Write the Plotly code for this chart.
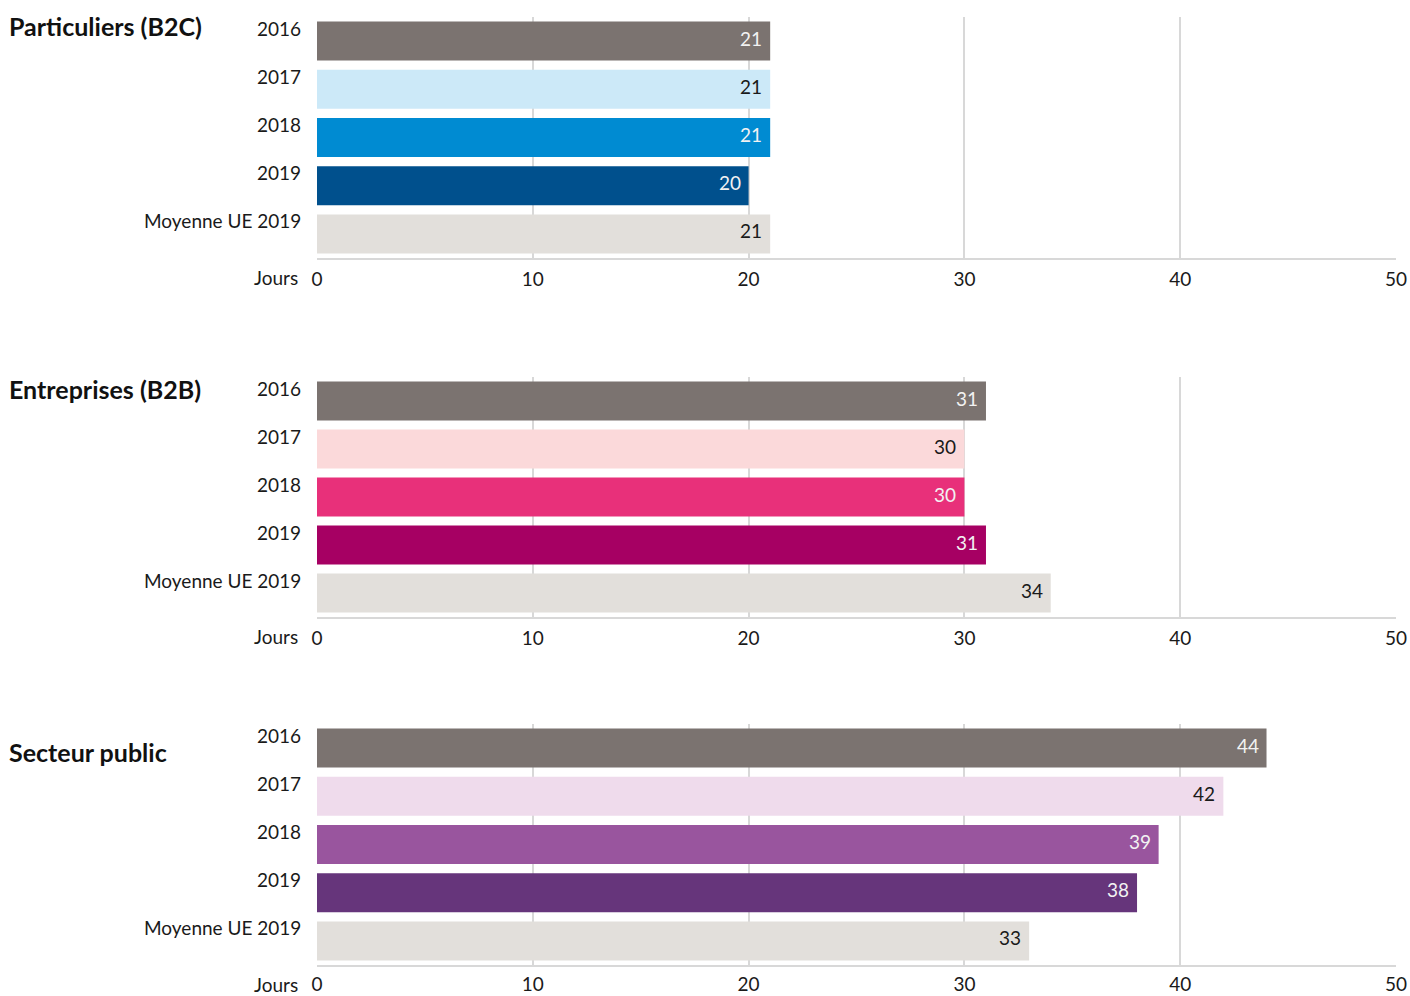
import plotly.graph_objects as go

# Délais de paiement moyens (jours) par type de débiteur
categories = ["2016", "2017", "2018", "2019", "Moyenne UE 2019"]
panel_titles = ["Particuliers (B2C)", "Entreprises (B2B)", "Secteur public"]
b2c_values = [21, 21, 21, 20, 21]
b2b_values = [31, 30, 30, 31, 34]
public_values = [44, 42, 39, 38, 33]
x_ticks = [0, 10, 20, 30, 40, 50]
axis_label = "Jours"

GREY = "#7b7370"
AVG = "#e2dfdb"
b2c_colors = [GREY, "#cce9f8", "#008bd2", "#00508d", AVG]
b2b_colors = [GREY, "#fbd9da", "#e8307a", "#a60063", AVG]
public_colors = [GREY, "#efdbec", "#99559e", "#66357b", AVG]
label_colors = ["#f2f2f2", "#1a1a1a", "#f2f2f2", "#f2f2f2", "#1a1a1a"]

W, H = 1410, 996
FONT = "Lato"
TXT = "#1a1a1a"
GRID = "#d8d8d8"

def py(px):
    return 1 - px / H

# pixel extents (top, bottom) of each panel's plotting area
panel_px = [(17, 258), (377, 617), (724, 965)]
title_px = [26, 389, 752]
tick_gap = [3, 3, 1]
x_dom = [317 / W, 1396 / W]

fig = go.Figure()
panels = [
    (b2c_values, b2c_colors),
    (b2b_values, b2b_colors),
    (public_values, public_colors),
]

annotations = []
for i, ((vals, cols), (top, bot)) in enumerate(zip(panels, panel_px)):
    n = i + 1
    xa = "x" if n == 1 else f"x{n}"
    ya = "y" if n == 1 else f"y{n}"
    fig.add_trace(go.Bar(
        x=vals, y=categories, orientation="h",
        marker=dict(color=cols, line=dict(width=0)),
        width=0.81, xaxis=xa, yaxis=ya,
        hoverinfo="x+y", showlegend=False,
    ))
    xkey = "xaxis" if n == 1 else f"xaxis{n}"
    ykey = "yaxis" if n == 1 else f"yaxis{n}"
    fig.update_layout(**{
        xkey: dict(
            domain=x_dom, anchor=ya, range=[0, 50], automargin=False,
            tickvals=x_ticks, ticktext=[str(t) for t in x_ticks],
            showgrid=True, gridcolor=GRID, gridwidth=1.5,
            zeroline=False, showline=True, linecolor=GRID, linewidth=1.5,
            ticks="outside", ticklen=tick_gap[i], tickcolor="rgba(0,0,0,0)",
            tickfont=dict(family=FONT, size=19, color=TXT),
            fixedrange=True,
        ),
        ykey: dict(
            domain=[py(bot), py(top)], anchor=xa, type="category",
            automargin=False,
            categoryorder="array", categoryarray=categories,
            range=[4.5, -0.5], showticklabels=False, showgrid=False,
            zeroline=False, showline=False, ticks="",
            fixedrange=True,
        ),
    })
    # category labels sitting near the top of each bar
    for k, c in enumerate(categories):
        annotations.append(dict(
            x=303 / W, xref="paper", xanchor="right",
            y=k, yref=ya, yanchor="middle", yshift=13,
            text=c, showarrow=False,
            font=dict(family=FONT, size=19, color=TXT),
        ))
    # value labels inside the bar ends
    for k, (v, lc) in enumerate(zip(vals, label_colors)):
        annotations.append(dict(
            x=v, xref=xa, xanchor="right", xshift=-6,
            y=k, yref=ya, yanchor="middle", yshift=3,
            text=str(v), showarrow=False,
            font=dict(family=FONT, size=19, color=lc),
        ))
    # axis unit label
    annotations.append(dict(
        x=300 / W, xref="paper", xanchor="right",
        y=py(bot + 19), yref="paper", yanchor="middle",
        text=axis_label, showarrow=False,
        font=dict(family=FONT, size=19, color=TXT),
    ))
    # panel title
    annotations.append(dict(
        x=7 / W, xref="paper", xanchor="left",
        y=py(title_px[i]), yref="paper", yanchor="middle",
        text=f"<b>{panel_titles[i]}</b>", showarrow=False,
        font=dict(family=FONT, size=25, color="#111111"),
    ))

fig.update_layout(
    width=W, height=H,
    margin=dict(l=0, r=0, t=0, b=0),
    paper_bgcolor="white", plot_bgcolor="white",
    bargap=0.19,
    annotations=annotations,
    font=dict(family=FONT, color=TXT),
)

fig.write_html("out.html")
